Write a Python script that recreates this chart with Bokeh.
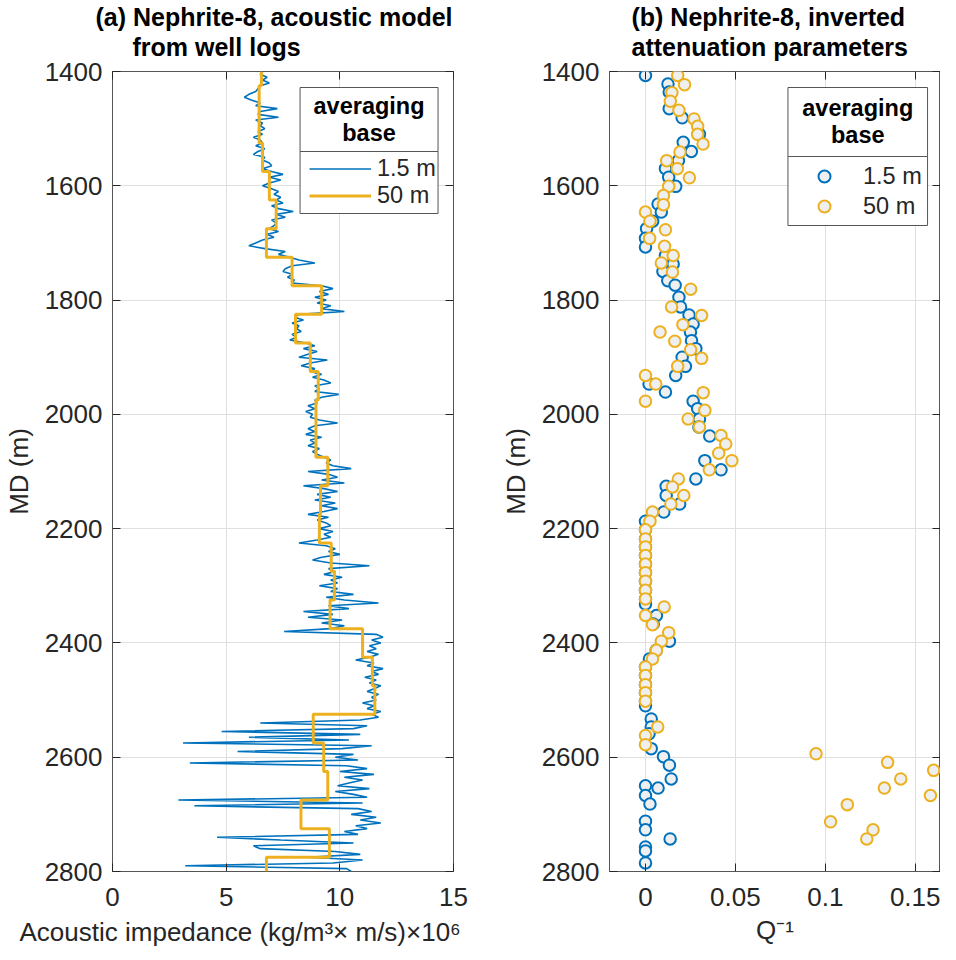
import numpy as np
from bokeh.plotting import figure
from bokeh.models import (Range1d, FixedTicker, LinearAxis, Title, Legend, LegendItem,
                          BoxAnnotation, Label, NumeralTickFormatter, ColumnDataSource)
from bokeh.layouts import row
from bokeh.embed import file_html
from bokeh.resources import INLINE

FONT = "Liberation Sans"
TXT = "#262626"
BLUE = "#0072BD"
ORANGE = "#EDB120"
GRID = "#DFDFDF"

# ---------------- data ----------------
# (a) acoustic impedance, 1.5 m averaging base, read every 5 m of MD
md_log = np.arange(1400, 2801, 5)
imp_log = [
    6.6, 6.5, 6.8, 6.6, 6.9, 6.5, 6.4, 6.3, 6.0, 5.8,
    6.1, 6.5, 6.3, 7.25, 6.5, 6.4, 7.3, 6.3, 6.6, 6.5,
    6.7, 6.4, 6.6, 6.2, 6.5, 6.6, 6.3, 6.7, 6.4, 6.2,
    6.7, 6.6, 6.9, 7.0, 6.6, 7.0, 7.5, 6.9, 7.4, 6.9,
    6.6, 7.0, 7.3, 7.1, 7.4, 7.2, 7.5, 7.0, 7.3, 7.95,
    7.2, 7.6, 7.0, 7.2, 7.1, 6.9, 7.3, 6.8, 7.1, 6.6,
    6.3, 6.0, 6.7, 7.6, 7.3, 7.8, 8.2, 8.9, 7.9, 7.6,
    7.5, 7.9, 7.7, 8.0, 7.9, 9.2, 9.7, 9.1, 9.5, 8.9,
    9.4, 9.0, 9.6, 9.2, 10.2, 8.2, 8.0, 8.4, 7.9, 8.2,
    8.1, 8.3, 7.9, 8.1, 7.8, 8.5, 8.9, 8.4, 9.0, 8.6,
    8.2, 9.45, 8.7, 8.3, 8.9, 8.7, 9.2, 8.8, 9.3, 9.6,
    8.9, 9.1, 8.9, 9.95, 9.2, 8.9, 9.0, 8.6, 8.9, 8.5,
    8.8, 8.7, 9.1, 9.9, 8.9, 8.6, 8.9, 8.5, 9.2, 8.7,
    8.9, 8.6, 9.1, 8.8, 9.0, 9.3, 9.6, 9.4, 9.7, 10.5,
    8.6, 9.5, 9.9, 9.2, 10.2, 8.4, 9.3, 9.9, 9.0, 9.6,
    8.9, 9.8, 9.2, 9.9, 9.3, 8.6, 9.5, 9.0, 9.4, 9.6,
    9.1, 9.7, 9.3, 9.6, 9.0, 8.2, 9.4, 9.8, 9.5, 10.0,
    9.2, 8.8, 9.6, 11.3, 9.5, 9.8, 9.3, 10.1, 9.6, 9.9,
    9.1, 9.9, 9.6, 10.6, 9.4, 10.2, 11.7, 9.5, 10.4, 8.4,
    9.7, 8.6, 10.1, 9.2, 10.2, 9.6, 7.55, 11.6, 11.9, 11.4,
    11.8, 11.3, 11.6, 11.2, 11.7, 11.3, 10.7, 11.5, 11.2, 11.9,
    11.4, 11.7, 11.1, 11.6, 11.3, 11.8, 11.5, 11.2, 11.7, 11.4,
    11.6, 11.0, 11.5, 11.2, 11.8, 11.4, 11.7, 10.9, 6.5, 11.2,
    10.6, 4.8, 10.9, 6.0, 10.4, 3.1, 11.4, 10.1, 5.5, 10.6,
    9.8, 10.8, 3.4, 10.3, 11.2, 10.0, 11.5, 10.2, 11.0, 10.4,
    9.9, 11.3, 9.8, 10.6, 11.2, 2.9, 11.0, 3.6, 10.8, 11.4,
    10.5, 11.6, 10.9, 11.8, 10.7, 11.2, 10.2, 10.8, 4.6, 7.4,
    10.6, 6.2, 6.5, 9.8, 10.9, 8.6, 11.0, 9.7, 3.2, 10.3,
    10.5,
]

# (a) 50 m averaging base: block edges (MD) and block values
block_edges = [1400, 1425, 1475, 1525, 1575, 1625, 1675, 1725, 1775, 1825,
               1875, 1925, 1975, 2025, 2075, 2125, 2175, 2225, 2275, 2325,
               2375, 2425, 2475, 2525, 2575, 2625, 2675, 2725, 2775, 2800]
imp_block = [6.55, 6.45, 6.45, 6.6, 6.9, 7.2, 6.77, 7.9, 9.2, 8.05,
             8.7, 9.05, 8.95, 8.95, 9.47, 9.15, 9.1, 9.62, 9.76, 9.57,
             11.0, 11.43, 11.54, 8.83, 9.29, 9.47, 8.29, 9.54, 6.77]

# (b) inverted Q^-1, 1.5 m base
md_q15 = [1407, 1422, 1436, 1465, 1481, 1510, 1524, 1540, 1556, 1570,
          1585, 1601, 1632, 1646, 1662, 1675, 1692, 1707, 1722, 1737,
          1750, 1766, 1774, 1795, 1812, 1826, 1842, 1856, 1871, 1885,
          1900, 1916, 1932, 1947, 1961, 1977, 1990, 2008, 2022, 2038,
          2081, 2097, 2113, 2126, 2142, 2157, 2171, 2187, 2202, 2218,
          2232, 2247, 2262, 2277, 2292, 2308, 2323, 2332, 2352, 2367,
          2397, 2413, 2428, 2442, 2457, 2473, 2487, 2502, 2510, 2533,
          2547, 2559, 2585, 2599, 2614, 2638, 2650, 2654, 2667, 2682,
          2712, 2727, 2743, 2757, 2764, 2785]
q_15 = [0.0, 0.0125, 0.0132, 0.0132, 0.0204, 0.030, 0.021, 0.0255, 0.0183, 0.0111,
        0.0129, 0.0168, 0.0070, 0.0088, 0.004, 0.0006, 0.0, 0.0, 0.0111, 0.0154,
        0.0097, 0.0124, 0.0165, 0.0186, 0.0195, 0.0242, 0.0265, 0.025, 0.0256, 0.028,
        0.0204, 0.0222, 0.0168, 0.002, 0.0111, 0.0265, 0.029, 0.030, 0.0297, 0.0357,
        0.033, 0.042, 0.028, 0.0115, 0.0115, 0.019, 0.0102, 0.0, 0.0, 0.0,
        0.0, 0.0, 0.0, 0.0, 0.0, 0.0, 0.0, 0.0, 0.0061, 0.0043,
        0.0133, 0.006, 0.0022, 0.0, 0.0, 0.0, 0.0, 0.0, 0.0, 0.0032,
        0.0032, 0.002, 0.0032, 0.0100, 0.0133, 0.0143, 0.0, 0.0070, 0.0, 0.0025,
        0.0, 0.0, 0.0137, 0.0, 0.0, 0.0]

# (b) inverted Q^-1, 50 m base
md_q50 = [1407, 1423, 1437, 1452, 1468, 1483, 1496, 1510, 1527, 1541,
          1556, 1570, 1586, 1601, 1617, 1633, 1646, 1662, 1677, 1692,
          1706, 1722, 1735, 1751, 1781, 1812, 1827, 1843, 1856, 1872,
          1887, 1902, 1916, 1932, 1947, 1962, 1977, 1993, 2008, 2022,
          2037, 2052, 2068, 2081, 2097, 2113, 2127, 2142, 2157, 2171,
          2187, 2202, 2218, 2232, 2247, 2262, 2277, 2292, 2308, 2323,
          2337, 2352, 2368, 2382, 2397, 2413, 2428, 2442, 2457, 2473,
          2487, 2502, 2547, 2562, 2578, 2594, 2609, 2623, 2638, 2654,
          2667, 2683, 2713, 2727, 2743]
q_50 = [0.0179, 0.0217, 0.0147, 0.0138, 0.0186, 0.027, 0.029, 0.029, 0.032, 0.0192,
        0.0118, 0.0177, 0.0244, 0.0129, 0.0100, 0.0100, 0.0, 0.0025, 0.0111, 0.0023,
        0.0106, 0.0154, 0.0088, 0.015, 0.0251, 0.0145, 0.0312, 0.0208, 0.0081, 0.0163,
        0.0251, 0.0312, 0.0179, 0.0, 0.0057, 0.0321, 0.0, 0.033, 0.0237, 0.030,
        0.042, 0.0446, 0.0407, 0.048, 0.0355, 0.0183, 0.015, 0.0213, 0.0141, 0.0039,
        0.0025, 0.0, 0.0, 0.0, 0.0, 0.0, 0.0, 0.0, 0.0, 0.0,
        0.0104, 0.0, 0.0039, 0.0129, 0.0088, 0.0061, 0.0039, 0.0, 0.0, 0.0,
        0.0, 0.0, 0.0068, 0.0, 0.0, 0.0948, 0.1346, 0.1602, 0.1419, 0.1328,
        0.1584, 0.1122, 0.1029, 0.1265, 0.123]

md_ticks = [1400, 1600, 1800, 2000, 2200, 2400, 2600, 2800]
imp_ticks = [0, 5, 10, 15]
q_ticks = [0, 0.05, 0.1, 0.15]

# step path of the 50 m model built from blocks
step_x, step_y = [], []
for i, v in enumerate(imp_block):
    step_x += [v, v]
    step_y += [block_edges[i], block_edges[i + 1]]

H = 952


def style_axes(p, xticks):
    xa = p.below[0]
    ya = p.left[0]
    xa.ticker = FixedTicker(ticks=xticks)
    ya.ticker = FixedTicker(ticks=md_ticks)
    p.xgrid.ticker = FixedTicker(ticks=xticks)
    p.ygrid.ticker = FixedTicker(ticks=md_ticks)
    for g in (p.xgrid[0], p.ygrid[0]):
        g.grid_line_color = GRID
        g.grid_line_width = 1
    for ax in (xa, ya):
        ax.major_tick_in = 8
        ax.major_tick_out = 0
        ax.minor_tick_line_color = None
        ax.axis_line_color = None
        ax.major_tick_line_color = TXT
        ax.major_label_text_font = FONT
        ax.major_label_text_font_size = "26px"
        ax.major_label_text_color = TXT
        ax.major_label_standoff = 10
        ax.axis_label_text_font = FONT
        ax.axis_label_text_font_size = "26px"
        ax.axis_label_text_font_style = "normal"
        ax.axis_label_text_color = TXT
        ax.axis_label_standoff = 8
    xa.major_label_standoff = 16
    p.outline_line_color = "#555555"
    p.outline_line_width = 1
    p.outline_line_alpha = 1
    p.background_fill_color = "white"
    p.border_fill_color = "white"
    # inward ticks on the top and right edges of the box
    top = LinearAxis(ticker=FixedTicker(ticks=xticks), major_tick_in=8, major_tick_out=0,
                     axis_line_color=None, minor_tick_line_color=None,
                     major_tick_line_color=TXT, major_label_text_font_size="1px",
                     major_label_text_color=None, major_label_standoff=0)
    right = LinearAxis(ticker=FixedTicker(ticks=md_ticks), major_tick_in=8, major_tick_out=0,
                       axis_line_color=None, minor_tick_line_color=None,
                       major_tick_line_color=TXT, major_label_text_font_size="1px",
                       major_label_text_color=None, major_label_standoff=0)
    p.add_layout(top, "above")
    p.add_layout(right, "right")
    return xa, ya


def add_titles(p, line1, off1, line2, off2):
    # thin spacer between the box and the two-line title
    p.add_layout(Title(text=" ", text_font=FONT, text_font_size="8px", standoff=0), "above")
    t2 = Title(text=line2, align="left", offset=off2, text_font=FONT, text_font_size="25px",
               text_font_style="bold", text_color="black", standoff=0)
    p.add_layout(t2, "above")
    t1 = Title(text=line1, align="left", offset=off1, text_font=FONT, text_font_size="25px",
               text_font_style="bold", text_color="black", standoff=0)
    p.add_layout(t1, "above")


def legend_frame(p, left, right, top, mid, bottom, cx, cy):
    p.add_layout(BoxAnnotation(left=left, right=right, top=top, bottom=mid,
                               fill_color="white", fill_alpha=1, line_color="#555555",
                               line_width=1, line_alpha=1, level="annotation"))
    p.add_layout(BoxAnnotation(left=left, right=right, top=mid, bottom=bottom,
                               fill_color="white", fill_alpha=1, line_color="#555555",
                               line_width=1, line_alpha=1, level="annotation"))
    p.add_layout(Label(x=cx, y=cy, text="averaging\nbase", text_align="center",
                       text_baseline="middle", text_font=FONT, text_font_size="23.5px",
                       text_font_style="bold", text_color="black", text_line_height=1.05))


# ---------------- panel (a) ----------------
p1 = figure(width=497, height=H, x_range=Range1d(0, 15), y_range=Range1d(2800, 1400),
            output_backend="svg", toolbar_location=None, title=None,
            min_border_left=102, min_border_right=44, min_border_top=71, min_border_bottom=81)
xa1, ya1 = style_axes(p1, imp_ticks)
ya1.axis_label = "MD (m)"
add_titles(p1, "(a) Nephrite-8, acoustic model", -17, "from well logs", 20)
p1.add_layout(Title(text="Acoustic impedance (kg/m\u00b3\u00d7 m/s)\u00d710\u2076", align="left",
                    offset=-93, text_font=FONT, text_font_size="26px", text_font_style="normal",
                    text_color=TXT, standoff=12), "below")

src_log = ColumnDataSource(dict(x=imp_log, y=md_log))
r_log = p1.line("x", "y", source=src_log, line_color=BLUE, line_width=1.6)
src_blk = ColumnDataSource(dict(x=step_x, y=step_y))
r_blk = p1.line("x", "y", source=src_blk, line_color=ORANGE, line_width=3)

legend_frame(p1, 8.25, 14.32, 1428, 1540, 1648.5, 11.285, 1484)
leg1 = Legend(items=[LegendItem(label="1.5 m", renderers=[r_log]),
                     LegendItem(label="50 m", renderers=[r_blk])],
              location=(193, 658), orientation="vertical", padding=4, spacing=0, margin=0,
              glyph_width=62, glyph_height=27, label_height=27, label_width=66,
              label_standoff=6, label_text_font=FONT, label_text_font_size="23.5px",
              label_text_color=TXT, border_line_alpha=0, background_fill_alpha=0)
p1.add_layout(leg1)

# ---------------- panel (b) ----------------
p2 = figure(width=443, height=H, x_range=Range1d(-0.02, 0.164), y_range=Range1d(2800, 1400),
            output_backend="svg", toolbar_location=None, title=None,
            min_border_left=110, min_border_right=0, min_border_top=71, min_border_bottom=81)
xa2, ya2 = style_axes(p2, q_ticks)
xa2.formatter = NumeralTickFormatter(format="0.[00]")
ya2.axis_label = "MD (m)"
xa2.axis_label = "Q\u207b\u00b9"
xa2.axis_label_standoff = 6
add_titles(p2, "(b) Nephrite-8, inverted", 22, "attenuation parameters", 22)

r_q15 = p2.scatter(q_15, md_q15, marker="circle", size=11.5, fill_color="#EFEFEF",
                   line_color=BLUE, line_width=2)
r_q50 = p2.scatter(q_50, md_q50, marker="circle", size=11.5, fill_color="#EFEFEF",
                   line_color=ORANGE, line_width=2)

legend_frame(p2, 0.0792, 0.1568, 1428, 1548.75, 1669.5, 0.118, 1488)
leg2 = Legend(items=[LegendItem(label="1.5 m", renderers=[r_q15]),
                     LegendItem(label="50 m", renderers=[r_q50])],
              location=(179, 646), orientation="vertical", padding=4, spacing=0, margin=0,
              glyph_width=64, glyph_height=30, label_height=30, label_width=61,
              label_standoff=7, label_text_font=FONT, label_text_font_size="23.5px",
              label_text_color=TXT, border_line_alpha=0, background_fill_alpha=0)
p2.add_layout(leg2)

layout = row(p1, p2)
open("out.html", "w").write(file_html(layout, INLINE))
